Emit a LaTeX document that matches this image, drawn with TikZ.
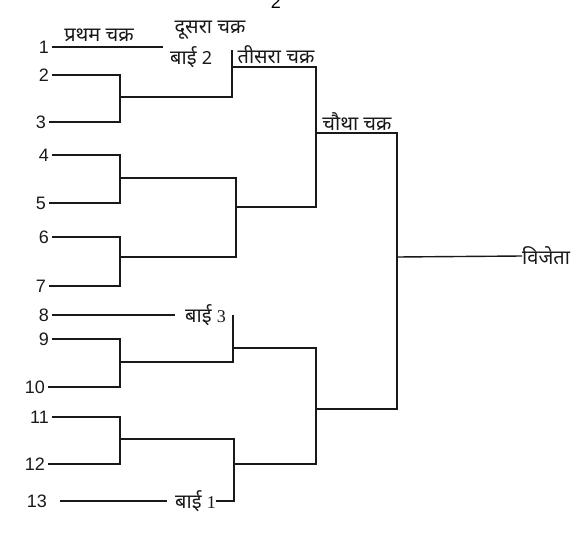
\documentclass[tikz,border=0pt]{standalone}
\usepackage{fontspec}
\setmainfont{Liberation Sans}
\newfontfamily\deva[Script=Devanagari]{Noto Sans}
\newfontfamily\serifnum{Liberation Serif}
\usetikzlibrary{positioning,calc}
\definecolor{brInk}{RGB}{25,25,25}
\tikzset{
    player/.style={font=\fontsize{18}{18}\selectfont, text=brInk, anchor=east, inner xsep=3pt, inner ysep=0pt},
    roundname/.style={font=\deva\fontsize{20}{20}\selectfont, text=brInk, inner sep=0pt},
    bye/.style={roundname, anchor=west},
    bracket/.style={draw=brInk, line width=1.4pt}
}

\begin{document}
\begin{tikzpicture}[x=1pt, y=-1pt]
  \useasboundingbox (0,0) rectangle (588,532);

  % Players (number / y / start of line)
  \foreach \n/\y/\x in {1/47/52, 2/75/52, 3/122/49, 4/155/52, 5/203/49, 6/237/52,
                        7/286/49, 8/315/52, 9/339/52, 10/387/48, 11/417/52, 12/464/48, 13/501/50} {
    \node[player] (p\n) at (\x,\y) {\n};
  }

  % Round names
  \node[font=\fontsize{18}{18}\selectfont] (pageno) at (276,2) {2};
  \node[roundname] (r1) at (99,35) {प्रथम चक्र};
  \node[roundname] (r2) at (210,30) {दूसरा चक्र};
  \node[roundname] (r3) at (276,55) {तीसरा चक्र};
  \node[roundname] (r4) at (357,122) {चौथा चक्र};

  % Byes
  \node[bye] (bye2) at (170,57) {बाई {\fontsize{18}{18}\selectfont 2}};
  \node[bye] (bye3) at (185,315) {बाई {\serifnum\fontsize{18}{18}\selectfont 3}};
  \node[bye] (bye1) at (175,501) {बाई {\serifnum\fontsize{18}{18}\selectfont 1}};
  \node[roundname, anchor=west] (win) at (522,256) {विजेता};

  % Junctions
  \coordinate (a23) at (120,97);
  \coordinate (a45) at (120,178);
  \coordinate (a67) at (120,257);
  \coordinate (a910) at (120,362);
  \coordinate (a1112) at (120,439);
  \coordinate (t2) at (232,50);
  \coordinate (q1) at (232,67);
  \coordinate (q2) at (236,207);
  \coordinate (t3) at (233,315);
  \coordinate (q3) at (233,348);
  \coordinate (q4) at (234,464);
  \coordinate (c1) at (316,133);
  \coordinate (c2) at (316,409);
  \coordinate (d1) at (397,257);

  % First round
  \draw[bracket] (p1.east) -- ([xshift=-7pt]p1.east -| bye2.west);
  \draw[bracket, shorten >=10pt] (p8.east) -- (bye3.west);
  \draw[bracket, shorten >=8pt] ([xshift=10pt]p13.east) -- (bye1.west);
  \draw[bracket] (p2.east) -| (a23) |- (p3.east);
  \draw[bracket] (p4.east) -| (a45) |- (p5.east);
  \draw[bracket] (p6.east) -| (a67) |- (p7.east);
  \draw[bracket] (p9.east) -| (a910) |- (p10.east);
  \draw[bracket] (p11.east) -| (a1112) |- (p12.east);

  % Second round
  \draw[bracket] (t2) |- (a23);
  \draw[bracket] (a45) -| (q2) |- (a67);
  \draw[bracket] (t3) |- (a910);
  \draw[bracket] (a1112) -| (q4) |- (bye1.east);

  % Third and fourth round
  \draw[bracket] (q1) -| (c1) |- (q2);
  \draw[bracket] (q3) -| (c2) |- (q4);
  \draw[bracket] (c1) -| (d1) |- (c2);
  \draw[bracket] (d1) -- (win.west);
\end{tikzpicture}
\end{document}
